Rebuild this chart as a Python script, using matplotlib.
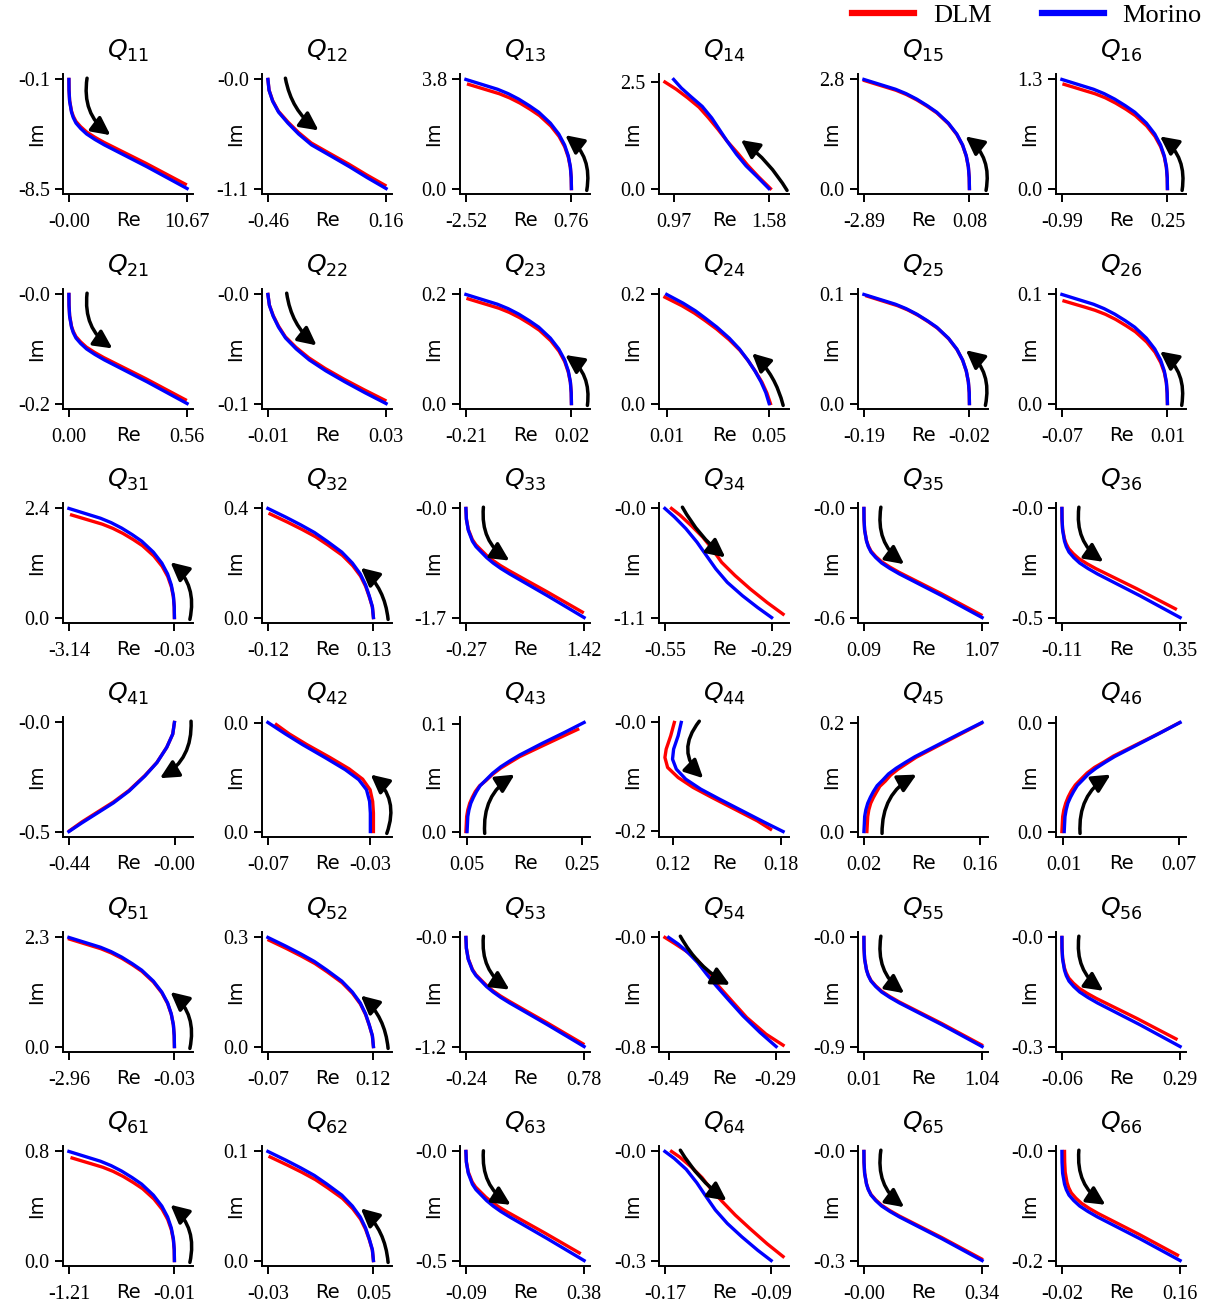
import matplotlib
matplotlib.use("Agg")
import matplotlib.pyplot as plt
from matplotlib.lines import Line2D

# ---- data: [Re values], [Im values] per curve ----
q11_dlm = [[0, 0.011, 0.063, 0.231, 0.389, 0.631, 1.051, 1.577, 2.312, 3.153, 5.045, 6.937, 8.723, 10.51],
           [-0.1, -0.906, -1.713, -2.519, -2.922, -3.326, -3.729, -4.132, -4.535, -4.938, -5.745, -6.551, -7.358, -8.164]]
q11_mor = [[0, 0.011, 0.064, 0.235, 0.395, 0.64, 1.067, 1.601, 2.347, 3.201, 5.122, 7.042, 8.856, 10.67],
           [-0.1, -0.94, -1.78, -2.62, -3.04, -3.46, -3.88, -4.3, -4.72, -5.14, -5.98, -6.82, -7.66, -8.5]]
q12_dlm = [[-0.46, -0.454, -0.435, -0.405, -0.356, -0.3, -0.233, -0.135, -0.036, 0.056, 0.154],
           [0, -0.1067, -0.2134, -0.3201, -0.4268, -0.5335, -0.6402, -0.7469, -0.8536, -0.9603, -1.067]]
q12_mor = [[-0.46, -0.454, -0.435, -0.404, -0.355, -0.299, -0.231, -0.131, -0.032, 0.061, 0.16],
           [0, -0.11, -0.22, -0.33, -0.44, -0.55, -0.66, -0.77, -0.88, -0.99, -1.1]]
q13_dlm = [[0.76, 0.754, 0.728, 0.664, 0.552, 0.376, 0.12, -0.231, -0.519, -0.839, -1.159, -1.479, -1.798, -2.118, -2.438],
           [0, 0.363, 0.726, 1.089, 1.452, 1.815, 2.177, 2.54, 2.758, 2.976, 3.157, 3.302, 3.411, 3.52, 3.629]]
q13_mor = [[0.76, 0.753, 0.727, 0.662, 0.547, 0.366, 0.104, -0.257, -0.552, -0.88, -1.208, -1.536, -1.864, -2.192, -2.52],
           [0, 0.38, 0.76, 1.14, 1.52, 1.9, 2.28, 2.66, 2.888, 3.116, 3.306, 3.458, 3.572, 3.686, 3.8]]
q14_dlm = [[1.59, 1.512, 1.443, 1.382, 1.312, 1.255, 1.194, 1.133, 1.06, 0.987, 0.914],
           [0, 0.28, 0.55, 0.82, 1.11, 1.38, 1.65, 1.9, 2.12, 2.32, 2.49]]
q14_mor = [[1.58, 1.507, 1.434, 1.373, 1.312, 1.263, 1.214, 1.153, 1.08, 1.019, 0.97],
           [0, 0.27, 0.53, 0.8, 1.11, 1.38, 1.65, 1.92, 2.15, 2.35, 2.55]]
q15_dlm = [[0.08, 0.074, 0.05, -0.009, -0.112, -0.275, -0.511, -0.836, -1.102, -1.398, -1.693, -1.989, -2.284, -2.58, -2.875],
           [0, 0.277, 0.554, 0.832, 1.109, 1.386, 1.663, 1.94, 2.107, 2.273, 2.412, 2.523, 2.606, 2.689, 2.772]]
q15_mor = [[0.08, 0.074, 0.05, -0.009, -0.113, -0.276, -0.514, -0.841, -1.108, -1.405, -1.702, -1.999, -2.296, -2.593, -2.89],
           [0, 0.28, 0.56, 0.84, 1.12, 1.4, 1.68, 1.96, 2.128, 2.296, 2.436, 2.548, 2.632, 2.716, 2.8]]
q16_dlm = [[0.25, 0.248, 0.238, 0.214, 0.171, 0.104, 0.007, -0.127, -0.236, -0.358, -0.479, -0.601, -0.722, -0.844, -0.965],
           [0, 0.124, 0.248, 0.373, 0.497, 0.621, 0.745, 0.869, 0.944, 1.018, 1.081, 1.13, 1.167, 1.205, 1.242]]
q16_mor = [[0.25, 0.248, 0.238, 0.213, 0.169, 0.101, 0.002, -0.134, -0.246, -0.37, -0.494, -0.618, -0.742, -0.866, -0.99],
           [0, 0.13, 0.26, 0.39, 0.52, 0.65, 0.78, 0.91, 0.988, 1.066, 1.131, 1.183, 1.222, 1.261, 1.3]]

q21_dlm = [[0, 0.00055, 0.00331, 0.01214, 0.02041, 0.0331, 0.05516, 0.08274, 0.12135, 0.16548, 0.26477, 0.36406, 0.45783, 0.5516],
           [0, -0.0193, -0.0386, -0.0579, -0.06755, -0.0772, -0.08685, -0.0965, -0.10615, -0.1158, -0.1351, -0.1544, -0.1737, -0.193]]
q21_mor = [[0, 0.00056, 0.00336, 0.01232, 0.02072, 0.0336, 0.056, 0.084, 0.1232, 0.168, 0.2688, 0.3696, 0.4648, 0.56],
           [0, -0.02, -0.04, -0.06, -0.07, -0.08, -0.09, -0.1, -0.11, -0.12, -0.14, -0.16, -0.18, -0.2]]
q22_dlm = [[-0.01, -0.0095, -0.0082, -0.0064, -0.0041, -0.0005, 0.0039, 0.0094, 0.0157, 0.0225, 0.0296],
           [0, -0.0097, -0.0194, -0.0291, -0.0388, -0.0485, -0.0582, -0.0679, -0.0776, -0.0873, -0.097]]
q22_mor = [[-0.01, -0.0095, -0.0082, -0.0064, -0.004, -0.0004, 0.004, 0.0096, 0.016, 0.0228, 0.03],
           [0, -0.01, -0.02, -0.03, -0.04, -0.05, -0.06, -0.07, -0.08, -0.09, -0.1]]
q23_dlm = [[0.02, 0.0196, 0.0178, 0.0132, 0.0054, -0.0071, -0.0251, -0.0499, -0.0702, -0.0927, -0.1152, -0.1378, -0.1603, -0.1829, -0.2054],
           [0, 0.0192, 0.0384, 0.0576, 0.0768, 0.096, 0.1152, 0.1344, 0.1459, 0.1574, 0.167, 0.1747, 0.1805, 0.1862, 0.192]]
q23_mor = [[0.02, 0.0195, 0.0177, 0.0131, 0.0051, -0.0076, -0.026, -0.0513, -0.072, -0.095, -0.118, -0.141, -0.164, -0.187, -0.21],
           [0, 0.02, 0.04, 0.06, 0.08, 0.1, 0.12, 0.14, 0.152, 0.164, 0.174, 0.182, 0.188, 0.194, 0.2]]
q24_dlm = [[0.0505, 0.0491, 0.0472, 0.0447, 0.0419, 0.0386, 0.0344, 0.0295, 0.025, 0.0208, 0.0159, 0.0093],
           [0, 0.0195, 0.039, 0.0585, 0.078, 0.0975, 0.117, 0.1365, 0.1521, 0.1658, 0.1794, 0.195]]
q24_mor = [[0.05, 0.0487, 0.0468, 0.0444, 0.0416, 0.0384, 0.0344, 0.0296, 0.0252, 0.0212, 0.0164, 0.01],
           [0, 0.02, 0.04, 0.06, 0.08, 0.1, 0.12, 0.14, 0.156, 0.17, 0.184, 0.2]]
q25_dlm = [[-0.02, -0.0203, -0.0217, -0.025, -0.0307, -0.0398, -0.053, -0.0712, -0.086, -0.1025, -0.119, -0.1355, -0.152, -0.1685, -0.185],
           [0, 0.00985, 0.0197, 0.02955, 0.0394, 0.04925, 0.0591, 0.06895, 0.07486, 0.08077, 0.0857, 0.08964, 0.09259, 0.09555, 0.0985]]
q25_mor = [[-0.02, -0.0203, -0.0217, -0.0251, -0.0311, -0.0404, -0.054, -0.0727, -0.088, -0.105, -0.122, -0.139, -0.156, -0.173, -0.19],
           [0, 0.01, 0.02, 0.03, 0.04, 0.05, 0.06, 0.07, 0.076, 0.082, 0.087, 0.091, 0.094, 0.097, 0.1]]
q26_dlm = [[0.01, 0.0098, 0.0092, 0.0077, 0.0049, 0.0006, -0.0057, -0.0143, -0.0214, -0.0292, -0.037, -0.0449, -0.0527, -0.0606, -0.0684],
           [0, 0.0094, 0.0188, 0.0282, 0.0376, 0.047, 0.0564, 0.0658, 0.0714, 0.0771, 0.0818, 0.0855, 0.0884, 0.0912, 0.094]]
q26_mor = [[0.01, 0.0098, 0.0092, 0.0076, 0.0048, 0.0004, -0.006, -0.0148, -0.022, -0.03, -0.038, -0.046, -0.054, -0.062, -0.07],
           [0, 0.01, 0.02, 0.03, 0.04, 0.05, 0.06, 0.07, 0.076, 0.082, 0.087, 0.091, 0.094, 0.097, 0.1]]

q31_dlm = [[-0.03, -0.036, -0.06, -0.121, -0.227, -0.394, -0.636, -0.969, -1.242, -1.545, -1.848, -2.151, -2.454, -2.757, -3.06],
           [0, 0.2256, 0.4512, 0.6768, 0.9024, 1.128, 1.3536, 1.5792, 1.7146, 1.8499, 1.9627, 2.053, 2.1206, 2.1883, 2.256]]
q31_mor = [[-0.03, -0.036, -0.061, -0.123, -0.232, -0.403, -0.652, -0.994, -1.274, -1.585, -1.896, -2.207, -2.518, -2.829, -3.14],
           [0, 0.24, 0.48, 0.72, 0.96, 1.2, 1.44, 1.68, 1.824, 1.968, 2.088, 2.184, 2.256, 2.328, 2.4]]
q32_dlm = [[0.13, 0.1276, 0.1202, 0.1116, 0.0994, 0.081, 0.0565, 0.0222, -0.0072, -0.0391, -0.0734, -0.115],
           [0, 0.038, 0.076, 0.114, 0.152, 0.19, 0.228, 0.266, 0.2964, 0.323, 0.3496, 0.38]]
q32_mor = [[0.13, 0.1275, 0.12, 0.1113, 0.0988, 0.08, 0.055, 0.02, -0.01, -0.0425, -0.0775, -0.12],
           [0, 0.04, 0.08, 0.12, 0.16, 0.2, 0.24, 0.28, 0.312, 0.34, 0.368, 0.4]]
q33_dlm = [[-0.27, -0.263, -0.237, -0.178, -0.128, -0.054, 0.021, 0.113, 0.221, 0.346, 0.612, 0.879, 1.137, 1.395],
           [0, -0.1615, -0.323, -0.4845, -0.56525, -0.646, -0.72675, -0.8075, -0.88825, -0.969, -1.1305, -1.292, -1.4535, -1.615]]
q33_mor = [[-0.27, -0.263, -0.236, -0.177, -0.126, -0.05, 0.026, 0.119, 0.229, 0.355, 0.626, 0.896, 1.158, 1.42],
           [0, -0.17, -0.34, -0.51, -0.595, -0.68, -0.765, -0.85, -0.935, -1.02, -1.19, -1.36, -1.53, -1.7]]
q34_dlm = [[-0.534, -0.513, -0.485, -0.458, -0.435, -0.412, -0.379, -0.342, -0.301, -0.262],
           [0, -0.068, -0.176, -0.288, -0.406, -0.542, -0.677, -0.812, -0.948, -1.066]]
q34_mor = [[-0.55, -0.527, -0.499, -0.472, -0.449, -0.426, -0.398, -0.361, -0.324, -0.29],
           [0, -0.085, -0.203, -0.339, -0.474, -0.609, -0.745, -0.88, -0.999, -1.1]]
q35_dlm = [[0.09, 0.091, 0.0958, 0.1113, 0.1259, 0.1482, 0.187, 0.2355, 0.3034, 0.381, 0.5556, 0.7302, 0.8951, 1.06],
           [0, -0.0585, -0.117, -0.1755, -0.20475, -0.234, -0.26325, -0.2925, -0.32175, -0.351, -0.4095, -0.468, -0.5265, -0.585]]
q35_mor = [[0.09, 0.091, 0.0959, 0.1116, 0.1263, 0.1488, 0.188, 0.237, 0.3056, 0.384, 0.5604, 0.7368, 0.9034, 1.07],
           [0, -0.06, -0.12, -0.18, -0.21, -0.24, -0.27, -0.3, -0.33, -0.36, -0.42, -0.48, -0.54, -0.6]]
q36_dlm = [[-0.11, -0.1096, -0.1074, -0.1003, -0.0937, -0.0835, -0.0658, -0.0438, -0.0129, 0.0225, 0.102, 0.1815, 0.2565, 0.3316],
           [0, -0.046, -0.092, -0.138, -0.161, -0.184, -0.207, -0.23, -0.253, -0.276, -0.322, -0.368, -0.414, -0.46]]
q36_mor = [[-0.11, -0.1095, -0.1072, -0.0999, -0.093, -0.0824, -0.064, -0.041, -0.0088, 0.028, 0.1108, 0.1936, 0.2718, 0.35],
           [0, -0.05, -0.1, -0.15, -0.175, -0.2, -0.225, -0.25, -0.275, -0.3, -0.35, -0.4, -0.45, -0.5]]

q41_dlm = [[-0.437, -0.386, -0.32, -0.255, -0.19, -0.124, -0.074, -0.033, -0.008, -0.001],
           [-0.496, -0.456, -0.41, -0.365, -0.312, -0.244, -0.184, -0.115, -0.054, -0.001]]
q41_mor = [[-0.44, -0.387, -0.321, -0.255, -0.19, -0.124, -0.074, -0.033, -0.008, -0.001],
           [-0.5, -0.461, -0.415, -0.369, -0.315, -0.246, -0.185, -0.115, -0.054, -0.001]]
q42_dlm = [[-0.0288, -0.0288, -0.0291, -0.0301, -0.033, -0.0383, -0.0458, -0.0549, -0.0617, -0.0667],
           [0, 0.0068, 0.0111, 0.0154, 0.0193, 0.0231, 0.0273, 0.0321, 0.036, 0.0394]]
q42_mor = [[-0.03, -0.03, -0.0303, -0.0315, -0.0345, -0.0398, -0.0474, -0.0564, -0.0632, -0.07],
           [0, 0.0068, 0.0111, 0.0154, 0.0191, 0.0228, 0.0271, 0.032, 0.036, 0.0402]]
q43_dlm = [[0.048, 0.0487, 0.0493, 0.0513, 0.0546, 0.0591, 0.0643, 0.0715, 0.0826, 0.0943, 0.1086, 0.1249, 0.1411, 0.1802, 0.2193, 0.242],
           [0, 0.0071, 0.0139, 0.02, 0.0262, 0.0317, 0.037, 0.0422, 0.0471, 0.053, 0.0588, 0.0641, 0.0693, 0.0792, 0.089, 0.0946]]
q43_mor = [[0.05, 0.0507, 0.0513, 0.0533, 0.0565, 0.0611, 0.0663, 0.0728, 0.0826, 0.0943, 0.1086, 0.1249, 0.1411, 0.1802, 0.2193, 0.2531],
           [0, 0.0071, 0.0139, 0.02, 0.0262, 0.0317, 0.037, 0.0425, 0.0477, 0.0539, 0.06, 0.0656, 0.0708, 0.0816, 0.0918, 0.101]]
q44_dlm = [[0.121, 0.119, 0.1165, 0.1158, 0.1173, 0.1231, 0.1314, 0.1418, 0.1543, 0.1668, 0.1741],
           [0, -0.0246, -0.0492, -0.0646, -0.083, -0.1015, -0.1199, -0.1384, -0.1599, -0.1814, -0.1968]]
q44_mor = [[0.1248, 0.1231, 0.1206, 0.12, 0.1221, 0.1273, 0.1356, 0.146, 0.1585, 0.171, 0.181],
           [0, -0.0246, -0.0492, -0.0677, -0.0861, -0.1046, -0.123, -0.1415, -0.163, -0.1845, -0.2011]]
q45_dlm = [[0.0236, 0.0241, 0.0246, 0.0259, 0.0282, 0.0314, 0.035, 0.0392, 0.046, 0.0524, 0.061, 0.072, 0.0829, 0.1098, 0.1367, 0.1614],
           [0, 0.0141, 0.0277, 0.04, 0.0523, 0.0627, 0.0726, 0.0836, 0.0935, 0.1046, 0.115, 0.1261, 0.1371, 0.1587, 0.1802, 0.1999]]
q45_mor = [[0.02, 0.0205, 0.0209, 0.0223, 0.0246, 0.0278, 0.0314, 0.036, 0.0428, 0.0496, 0.0588, 0.0702, 0.0816, 0.1089, 0.1363, 0.1627],
           [0, 0.0141, 0.0277, 0.04, 0.0523, 0.0633, 0.0738, 0.0849, 0.0953, 0.1064, 0.1169, 0.1279, 0.1384, 0.1599, 0.1814, 0.2017]]
q46_dlm = [[0.0092, 0.0094, 0.0096, 0.0102, 0.0112, 0.0125, 0.0141, 0.0162, 0.0192, 0.0223, 0.0262, 0.0313, 0.0361, 0.048, 0.0599, 0.0704],
           [0, 0.0028, 0.0055, 0.008, 0.0105, 0.0128, 0.015, 0.0172, 0.0194, 0.0216, 0.0237, 0.0258, 0.0279, 0.0321, 0.0363, 0.0402]]
q46_mor = [[0.0104, 0.0106, 0.0108, 0.0114, 0.0123, 0.0137, 0.0153, 0.0172, 0.0201, 0.0231, 0.027, 0.0318, 0.0367, 0.0484, 0.0601, 0.0708],
           [0, 0.0028, 0.0055, 0.008, 0.0105, 0.0127, 0.0148, 0.017, 0.0191, 0.0213, 0.0234, 0.0256, 0.0277, 0.032, 0.0363, 0.0403]]

q51_dlm = [[-0.03, -0.036, -0.059, -0.117, -0.219, -0.38, -0.613, -0.934, -1.196, -1.488, -1.779, -2.071, -2.362, -2.654, -2.945],
           [0, 0.2266, 0.4532, 0.6798, 0.9064, 1.133, 1.3596, 1.5862, 1.7222, 1.8581, 1.9714, 2.0621, 2.13, 2.198, 2.266]]
q51_mor = [[-0.03, -0.036, -0.059, -0.118, -0.22, -0.382, -0.616, -0.938, -1.202, -1.495, -1.788, -2.081, -2.374, -2.667, -2.96],
           [0, 0.23, 0.46, 0.69, 0.92, 1.15, 1.38, 1.61, 1.748, 1.886, 2.001, 2.093, 2.162, 2.231, 2.3]]
q52_dlm = [[0.12, 0.1181, 0.1125, 0.1059, 0.0965, 0.0824, 0.0636, 0.0373, 0.0147, -0.0097, -0.036, -0.068],
           [0, 0.0293, 0.0585, 0.0878, 0.117, 0.1463, 0.1755, 0.2048, 0.2282, 0.2486, 0.2691, 0.2925]]
q52_mor = [[0.12, 0.1181, 0.1124, 0.1058, 0.0963, 0.082, 0.063, 0.0364, 0.0136, -0.0111, -0.0377, -0.07],
           [0, 0.03, 0.06, 0.09, 0.12, 0.15, 0.18, 0.21, 0.234, 0.255, 0.276, 0.3]]
q53_dlm = [[-0.24, -0.236, -0.22, -0.184, -0.154, -0.109, -0.063, -0.008, 0.058, 0.134, 0.295, 0.457, 0.613, 0.77],
           [0, -0.117, -0.234, -0.351, -0.4095, -0.468, -0.5265, -0.585, -0.6435, -0.702, -0.819, -0.936, -1.053, -1.17]]
q53_mor = [[-0.24, -0.236, -0.22, -0.184, -0.153, -0.107, -0.062, -0.005, 0.061, 0.137, 0.301, 0.464, 0.622, 0.78],
           [0, -0.12, -0.24, -0.36, -0.42, -0.48, -0.54, -0.6, -0.66, -0.72, -0.84, -0.96, -1.08, -1.2]]
q54_dlm = [[-0.497, -0.479, -0.458, -0.436, -0.419, -0.397, -0.372, -0.344, -0.308, -0.276],
           [0, -0.044, -0.098, -0.166, -0.249, -0.355, -0.465, -0.587, -0.709, -0.79]]
q54_mor = [[-0.49, -0.472, -0.454, -0.436, -0.419, -0.401, -0.379, -0.351, -0.319, -0.289],
           [0, -0.049, -0.11, -0.183, -0.269, -0.355, -0.453, -0.575, -0.697, -0.8]]
q55_dlm = [[0.01, 0.011, 0.0162, 0.0326, 0.0479, 0.0715, 0.1125, 0.1638, 0.2355, 0.3175, 0.502, 0.6865, 0.8608, 1.035],
           [0, -0.0887, -0.1773, -0.266, -0.3103, -0.3546, -0.3989, -0.4433, -0.4876, -0.5319, -0.6206, -0.7092, -0.7979, -0.8865]]
q55_mor = [[0.01, 0.011, 0.0162, 0.0327, 0.0481, 0.0718, 0.113, 0.1645, 0.2366, 0.319, 0.5044, 0.6898, 0.8649, 1.04],
           [0, -0.09, -0.18, -0.27, -0.315, -0.36, -0.405, -0.45, -0.495, -0.54, -0.63, -0.72, -0.81, -0.9]]
q56_dlm = [[-0.06, -0.0597, -0.058, -0.0526, -0.0475, -0.0397, -0.0262, -0.0093, 0.0144, 0.0414, 0.1022, 0.1631, 0.2205, 0.278],
           [0, -0.0279, -0.0558, -0.0837, -0.09765, -0.1116, -0.12555, -0.1395, -0.15345, -0.1674, -0.1953, -0.2232, -0.2511, -0.279]]
q56_mor = [[-0.06, -0.0597, -0.0579, -0.0523, -0.0471, -0.039, -0.025, -0.0075, 0.017, 0.045, 0.108, 0.171, 0.2305, 0.29],
           [0, -0.03, -0.06, -0.09, -0.105, -0.12, -0.135, -0.15, -0.165, -0.18, -0.21, -0.24, -0.27, -0.3]]

q61_dlm = [[-0.01, -0.012, -0.022, -0.045, -0.086, -0.15, -0.243, -0.371, -0.476, -0.592, -0.708, -0.825, -0.941, -1.058, -1.174],
           [0, 0.0752, 0.1504, 0.2256, 0.3008, 0.376, 0.4512, 0.5264, 0.5715, 0.6166, 0.6542, 0.6843, 0.7069, 0.7294, 0.752]]
q61_mor = [[-0.01, -0.012, -0.022, -0.046, -0.088, -0.154, -0.25, -0.382, -0.49, -0.61, -0.73, -0.85, -0.97, -1.09, -1.21],
           [0, 0.08, 0.16, 0.24, 0.32, 0.4, 0.48, 0.56, 0.608, 0.656, 0.696, 0.728, 0.752, 0.776, 0.8]]
q62_dlm = [[0.05, 0.0492, 0.0469, 0.0441, 0.0402, 0.0343, 0.0265, 0.0155, 0.0061, -0.0041, -0.0151, -0.0284],
           [0, 0.0095, 0.019, 0.0285, 0.038, 0.0475, 0.057, 0.0665, 0.0741, 0.0808, 0.0874, 0.095]]
q62_mor = [[0.05, 0.0492, 0.0468, 0.044, 0.04, 0.034, 0.026, 0.0148, 0.0052, -0.0052, -0.0164, -0.03],
           [0, 0.01, 0.02, 0.03, 0.04, 0.05, 0.06, 0.07, 0.078, 0.085, 0.092, 0.1]]
q63_dlm = [[-0.09, -0.0882, -0.081, -0.0652, -0.0517, -0.0314, -0.0111, 0.0137, 0.0431, 0.0769, 0.149, 0.2212, 0.2911, 0.361],
           [0, -0.0465, -0.093, -0.1395, -0.16275, -0.186, -0.20925, -0.2325, -0.25575, -0.279, -0.3255, -0.372, -0.4185, -0.465]]
q63_mor = [[-0.09, -0.0881, -0.0806, -0.0642, -0.05, -0.0289, -0.0078, 0.0181, 0.0487, 0.0839, 0.1591, 0.2343, 0.3072, 0.38],
           [0, -0.05, -0.1, -0.15, -0.175, -0.2, -0.225, -0.25, -0.275, -0.3, -0.35, -0.4, -0.45, -0.5]]
q64_dlm = [[-0.165, -0.159, -0.15, -0.142, -0.135, -0.127, -0.117, -0.106, -0.093, -0.081],
           [0, -0.015, -0.043, -0.072, -0.105, -0.137, -0.175, -0.212, -0.254, -0.289]]
q64_mor = [[-0.17, -0.163, -0.154, -0.146, -0.139, -0.132, -0.123, -0.112, -0.1, -0.09],
           [0, -0.019, -0.049, -0.086, -0.124, -0.161, -0.198, -0.235, -0.272, -0.3]]
q65_dlm = [[0, 0.00034, 0.00203, 0.00744, 0.01252, 0.0203, 0.03383, 0.05075, 0.07443, 0.10149, 0.16238, 0.22328, 0.28079, 0.3383],
           [0, -0.02955, -0.0591, -0.08865, -0.10343, -0.1182, -0.13298, -0.14775, -0.16253, -0.1773, -0.20685, -0.2364, -0.26595, -0.2955]]
q65_mor = [[0, 0.00034, 0.00204, 0.00748, 0.01258, 0.0204, 0.034, 0.051, 0.0748, 0.102, 0.1632, 0.2244, 0.2822, 0.34],
           [0, -0.03, -0.06, -0.09, -0.105, -0.12, -0.135, -0.15, -0.165, -0.18, -0.21, -0.24, -0.27, -0.3]]
q66_dlm = [[-0.016, -0.0158, -0.015, -0.0122, -0.0096, -0.0057, 0.0012, 0.0098, 0.0218, 0.0356, 0.0666, 0.0975, 0.1268, 0.156],
           [0, -0.019, -0.038, -0.057, -0.0665, -0.076, -0.0855, -0.095, -0.1045, -0.114, -0.133, -0.152, -0.171, -0.19]]
q66_mor = [[-0.02, -0.0198, -0.0189, -0.016, -0.0133, -0.0092, -0.002, 0.007, 0.0196, 0.034, 0.0664, 0.0988, 0.1294, 0.16],
           [0, -0.02, -0.04, -0.06, -0.07, -0.08, -0.09, -0.1, -0.11, -0.12, -0.14, -0.16, -0.18, -0.2]]

panel_names = ["11", "12", "13", "14", "15", "16",
               "21", "22", "23", "24", "25", "26",
               "31", "32", "33", "34", "35", "36",
               "41", "42", "43", "44", "45", "46",
               "51", "52", "53", "54", "55", "56",
               "61", "62", "63", "64", "65", "66"]

dlm_curves = [q11_dlm, q12_dlm, q13_dlm, q14_dlm, q15_dlm, q16_dlm,
              q21_dlm, q22_dlm, q23_dlm, q24_dlm, q25_dlm, q26_dlm,
              q31_dlm, q32_dlm, q33_dlm, q34_dlm, q35_dlm, q36_dlm,
              q41_dlm, q42_dlm, q43_dlm, q44_dlm, q45_dlm, q46_dlm,
              q51_dlm, q52_dlm, q53_dlm, q54_dlm, q55_dlm, q56_dlm,
              q61_dlm, q62_dlm, q63_dlm, q64_dlm, q65_dlm, q66_dlm]
mor_curves = [q11_mor, q12_mor, q13_mor, q14_mor, q15_mor, q16_mor,
              q21_mor, q22_mor, q23_mor, q24_mor, q25_mor, q26_mor,
              q31_mor, q32_mor, q33_mor, q34_mor, q35_mor, q36_mor,
              q41_mor, q42_mor, q43_mor, q44_mor, q45_mor, q46_mor,
              q51_mor, q52_mor, q53_mor, q54_mor, q55_mor, q56_mor,
              q61_mor, q62_mor, q63_mor, q64_mor, q65_mor, q66_mor]

# tick labels (x: low, high) and (y: low, high)
xtick_labels = [["-0.00", "10.67"], ["-0.46", "0.16"], ["-2.52", "0.76"], ["0.97", "1.58"], ["-2.89", "0.08"], ["-0.99", "0.25"],
                ["0.00", "0.56"], ["-0.01", "0.03"], ["-0.21", "0.02"], ["0.01", "0.05"], ["-0.19", "-0.02"], ["-0.07", "0.01"],
                ["-3.14", "-0.03"], ["-0.12", "0.13"], ["-0.27", "1.42"], ["-0.55", "-0.29"], ["0.09", "1.07"], ["-0.11", "0.35"],
                ["-0.44", "-0.00"], ["-0.07", "-0.03"], ["0.05", "0.25"], ["0.12", "0.18"], ["0.02", "0.16"], ["0.01", "0.07"],
                ["-2.96", "-0.03"], ["-0.07", "0.12"], ["-0.24", "0.78"], ["-0.49", "-0.29"], ["0.01", "1.04"], ["-0.06", "0.29"],
                ["-1.21", "-0.01"], ["-0.03", "0.05"], ["-0.09", "0.38"], ["-0.17", "-0.09"], ["-0.00", "0.34"], ["-0.02", "0.16"]]
ytick_labels = [["-8.5", "-0.1"], ["-1.1", "-0.0"], ["0.0", "3.8"], ["0.0", "2.5"], ["0.0", "2.8"], ["0.0", "1.3"],
                ["-0.2", "-0.0"], ["-0.1", "-0.0"], ["0.0", "0.2"], ["0.0", "0.2"], ["0.0", "0.1"], ["0.0", "0.1"],
                ["0.0", "2.4"], ["0.0", "0.4"], ["-1.7", "-0.0"], ["-1.1", "-0.0"], ["-0.6", "-0.0"], ["-0.5", "-0.0"],
                ["-0.5", "-0.0"], ["0.0", "0.0"], ["0.0", "0.1"], ["-0.2", "-0.0"], ["0.0", "0.2"], ["0.0", "0.0"],
                ["0.0", "2.3"], ["0.0", "0.3"], ["-1.2", "-0.0"], ["-0.8", "-0.0"], ["-0.9", "-0.0"], ["-0.3", "-0.0"],
                ["0.0", "0.8"], ["0.0", "0.1"], ["-0.5", "-0.0"], ["-0.3", "-0.0"], ["-0.3", "-0.0"], ["-0.2", "-0.0"]]
ytick_values = [[-8.5, -0.1], [-1.1, 0.0], [0.0, 3.8], [0.0, 2.5], [0.0, 2.8], [0.0, 1.3],
                [-0.2, 0.0], [-0.1, 0.0], [0.0, 0.2], [0.0, 0.2], [0.0, 0.1], [0.0, 0.1],
                [0.0, 2.4], [0.0, 0.4], [-1.7, 0.0], [-1.1, 0.0], [-0.6, 0.0], [-0.5, 0.0],
                [-0.5, 0.0], [0.0, 0.04], [0.0, 0.1], [-0.2, 0.0], [0.0, 0.2], [0.0, 0.04],
                [0.0, 2.3], [0.0, 0.3], [-1.2, 0.0], [-0.8, 0.0], [-0.9, 0.0], [-0.3, 0.0],
                [0.0, 0.8], [0.0, 0.1], [-0.5, 0.0], [-0.3, 0.0], [-0.3, 0.0], [-0.2, 0.0]]

# ---- layout ----
# arrow: (x start, y start, x end, y end, curvature) in axes fraction
arrows = {
    "11": (0.185, 0.965, 0.365, 0.49, 0.3), "12": (0.18, 0.965, 0.435, 0.53, 0.2),
    "13": (0.975, 0.03, 0.81, 0.49, 0.3), "14": (0.985, 0.03, 0.63, 0.45, 0.1),
    "15": (0.985, 0.03, 0.827, 0.48, 0.3), "16": (0.97, 0.03, 0.80, 0.48, 0.3),
    "21": (0.185, 0.965, 0.38, 0.505, 0.3), "22": (0.19, 0.965, 0.42, 0.53, 0.2),
    "23": (0.98, 0.03, 0.81, 0.45, 0.3), "24": (0.955, 0.03, 0.716, 0.464, 0.15),
    "25": (0.98, 0.03, 0.83, 0.49, 0.3), "26": (0.967, 0.03, 0.80, 0.48, 0.3),
    "31": (0.976, 0.03, 0.827, 0.506, 0.3), "32": (0.97, 0.03, 0.76, 0.46, 0.2),
    "33": (0.18, 0.965, 0.38, 0.52, 0.3), "34": (0.18, 0.965, 0.51, 0.547, 0.1),
    "35": (0.176, 0.965, 0.355, 0.49, 0.3), "36": (0.176, 0.965, 0.364, 0.51, 0.3),
    "41": (0.985, 0.965, 0.746, 0.49, -0.3), "42": (0.96, 0.03, 0.836, 0.52, 0.35),
    "43": (0.19, 0.03, 0.42, 0.52, -0.3), "44": (0.31, 0.965, 0.34, 0.49, 0.45),
    "45": (0.185, 0.03, 0.45, 0.52, -0.3), "46": (0.185, 0.03, 0.42, 0.52, -0.3),
    "51": (0.976, 0.03, 0.827, 0.5, 0.3), "52": (0.97, 0.03, 0.76, 0.47, 0.2),
    "53": (0.18, 0.965, 0.38, 0.52, 0.3), "54": (0.164, 0.965, 0.546, 0.56, 0.15),
    "55": (0.176, 0.965, 0.355, 0.49, 0.3), "56": (0.176, 0.965, 0.364, 0.51, 0.3),
    "61": (0.976, 0.03, 0.827, 0.51, 0.3), "62": (0.97, 0.03, 0.76, 0.48, 0.2),
    "63": (0.18, 0.96, 0.39, 0.51, 0.3), "64": (0.164, 0.965, 0.52, 0.545, 0.1),
    "65": (0.176, 0.965, 0.355, 0.49, 0.3), "66": (0.176, 0.965, 0.38, 0.51, 0.3),
}
# panels whose arrow sits right of the curve -> extra room on the right
extend_right = {"13", "14", "15", "16", "23", "24", "25", "26", "31", "32",
                "41", "42", "51", "52", "61", "62"}

W, H = 1215, 1307
col_left = [63, 262, 460, 659, 858, 1056]
row_top = [74, 289, 503, 717, 932, 1146]
aw, ah = 130, 120
serif = "Liberation Serif"

fig = plt.figure(figsize=(W / 100, H / 100), dpi=100)

for k, name in enumerate(panel_names):
    r, c = divmod(k, 6)
    ax = fig.add_axes([col_left[c] / W, 1 - (row_top[r] + ah) / H, aw / W, ah / H])
    d = dlm_curves[k]
    m = mor_curves[k]
    ax.plot(d[0], d[1], color="red", lw=2.4)
    ax.plot(m[0], m[1], color="blue", lw=2.4)

    xs = d[0] + m[0]
    ys = d[1] + m[1]
    lo, hi = min(xs), max(xs)
    if name in extend_right:
        hi = hi + 0.12 * (hi - lo)
    span = hi - lo
    ylo, yhi = min(ys), max(ys)
    yspan = yhi - ylo

    ax.set_xticks([float(s) for s in xtick_labels[k]])
    ax.set_xticklabels(xtick_labels[k], fontfamily=serif, fontsize=14.5)
    ax.set_yticks(ytick_values[k])
    ax.set_yticklabels(ytick_labels[k], fontfamily=serif, fontsize=14.5)
    ax.set_xlim(lo - 0.05 * span, hi + 0.05 * span)
    ax.set_ylim(ylo - 0.05 * yspan, yhi + 0.05 * yspan)

    for s in ["top", "right"]:
        ax.spines[s].set_visible(False)
    for s in ["left", "bottom"]:
        ax.spines[s].set_linewidth(1.4)
    ax.tick_params(length=5.5, width=1.4, pad=4)
    ax.tick_params(axis="x", pad=8)

    ax.set_title(r"$Q_{%s}$" % name, fontsize=18, pad=12)
    ax.set_xlabel("Re", fontsize=14)
    ax.xaxis.set_label_coords(0.5, -0.14)
    ax.set_ylabel("Im", fontsize=14)
    ax.yaxis.set_label_coords(-0.13, 0.5)

    x0, y0, x1, y1, rad = arrows[name]
    ax.annotate("", xy=(x1, y1), xytext=(x0, y0),
                xycoords="axes fraction", textcoords="axes fraction",
                arrowprops=dict(arrowstyle="-|>,head_length=0.5,head_width=0.25",
                                connectionstyle="arc3,rad=%s" % rad,
                                color="black", lw=2.5, mutation_scale=22,
                                shrinkA=0, shrinkB=0))

handles = [Line2D([], [], color="red", lw=4.5), Line2D([], [], color="blue", lw=4.5)]
fig.legend(handles, ["DLM", "Morino"], loc="upper right", bbox_to_anchor=(0.992, 1.0),
           ncol=2, frameon=False, prop={"family": serif, "size": 19},
           handlelength=2.35, handletextpad=0.7, columnspacing=1.9,
           borderaxespad=0, borderpad=0.15)

fig.savefig("out.png", dpi=100)
